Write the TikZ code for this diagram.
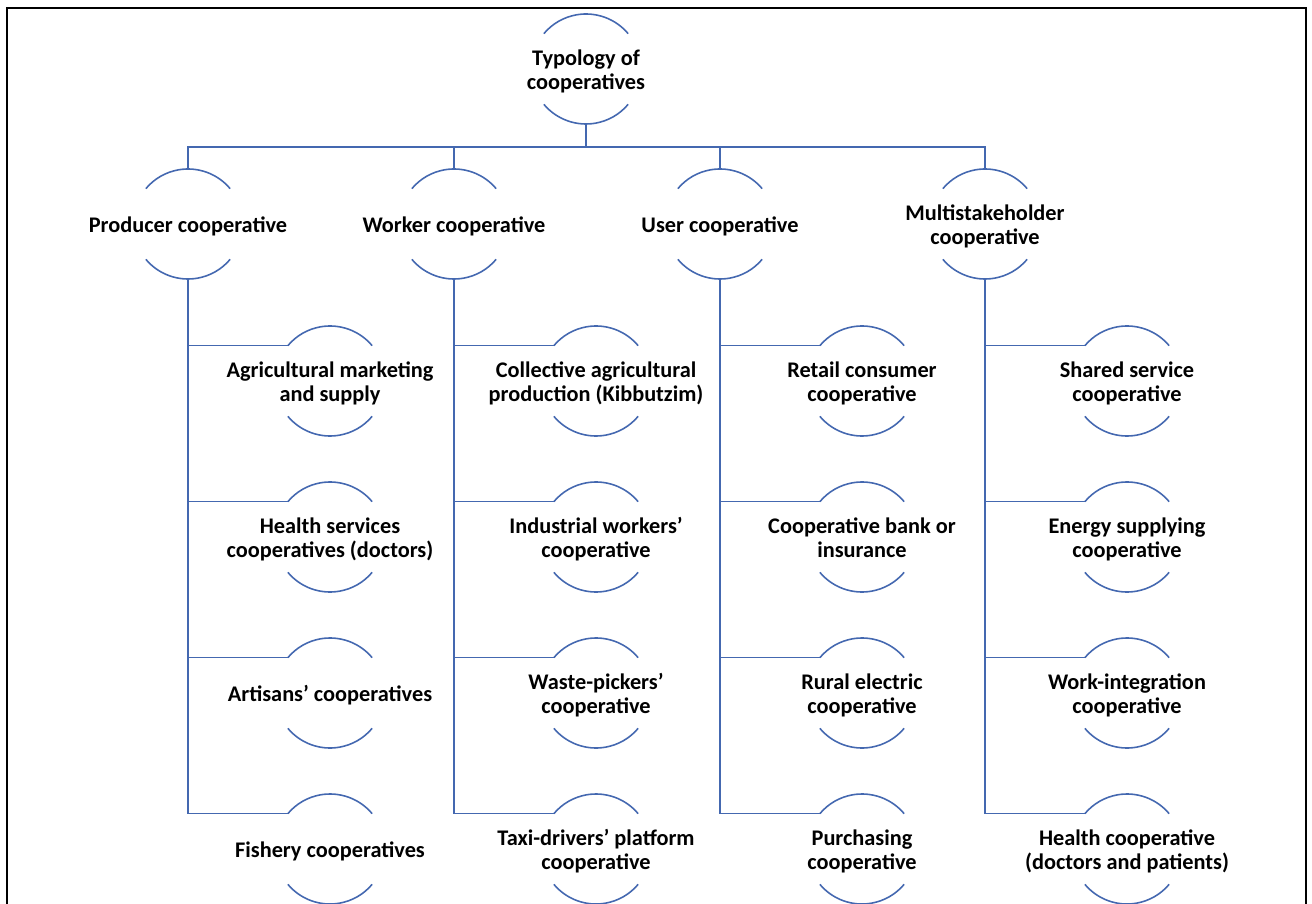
\documentclass[tikz,border=0pt]{standalone}
\usepackage{fontspec}
\setmainfont{Carlito}
\definecolor{coopblue}{RGB}{68,104,176}
\newcommand{\cooptext}[1]{\makebox[0pt]{\raisebox{-4.9pt}[0pt][0pt]{\begin{tabular}{@{}c@{}}#1\end{tabular}}}}
\begin{document}
\begin{tikzpicture}[font=\bfseries\fontsize{12.7}{13.9}\selectfont,
      link/.style={draw=coopblue, line width=0.9pt},
      coop/.style={circle, minimum size=2.2cm, inner sep=0pt, outer sep=0pt}]
    \useasboundingbox (0,0) rectangle (26.24,-18.08);
    \draw[line width=1.3pt] (0.14,-0.16) rectangle (26.12,-18.6);
    % one unit = 50 px of the 1312 x 904 frame; every circle has radius 1.1
    \node[coop] (typ) at (11.72,-1.38) {\cooptext{Typology of\\cooperatives}};
    \node[coop] (prod) at (3.76,-4.48) {\cooptext{Producer cooperative}};
    \node[coop] (work) at (9.08,-4.48) {\cooptext{Worker cooperative}};
    \node[coop] (user) at (14.4,-4.48) {\cooptext{User cooperative}};
    \node[coop] (multi) at (19.7,-4.48) {\cooptext{Multistakeholder\\cooperative}};
    \node[coop] (agri) at (6.6,-7.62) {\cooptext{Agricultural marketing\\and supply}};
    \node[coop] (hlth) at (6.6,-10.74) {\cooptext{Health services\\cooperatives (doctors)}};
    \node[coop] (artis) at (6.6,-13.86) {\cooptext{Artisans’ cooperatives}};
    \node[coop] (fish) at (6.6,-16.98) {\cooptext{Fishery cooperatives}};
    \node[coop] (kibb) at (11.92,-7.62) {\cooptext{Collective agricultural\\production (Kibbutzim)}};
    \node[coop] (indu) at (11.92,-10.74) {\cooptext{Industrial workers’\\cooperative}};
    \node[coop] (waste) at (11.92,-13.86) {\cooptext{Waste-pickers’\\cooperative}};
    \node[coop] (taxi) at (11.92,-16.98) {\cooptext{Taxi-drivers’ platform\\cooperative}};
    \node[coop] (retail) at (17.24,-7.62) {\cooptext{Retail consumer\\cooperative}};
    \node[coop] (bank) at (17.24,-10.74) {\cooptext{Cooperative bank or\\insurance}};
    \node[coop] (rural) at (17.24,-13.86) {\cooptext{Rural electric\\cooperative}};
    \node[coop] (purch) at (17.24,-16.98) {\cooptext{Purchasing\\cooperative}};
    \node[coop] (share) at (22.54,-7.62) {\cooptext{Shared service\\cooperative}};
    \node[coop] (enrg) at (22.54,-10.74) {\cooptext{Energy supplying\\cooperative}};
    \node[coop] (wint) at (22.54,-13.86) {\cooptext{Work-integration\\cooperative}};
    \node[coop] (hcoop) at (22.54,-16.98) {\cooptext{Health cooperative\\(doctors and patients)}};
    \draw[link] (typ.40) arc[start angle=40, end angle=140, radius=1.1cm] (typ.220) arc[start angle=220, end angle=320, radius=1.1cm];
    \draw[link] (prod.40) arc[start angle=40, end angle=140, radius=1.1cm] (prod.220) arc[start angle=220, end angle=320, radius=1.1cm];
    \draw[link] (work.40) arc[start angle=40, end angle=140, radius=1.1cm] (work.220) arc[start angle=220, end angle=320, radius=1.1cm];
    \draw[link] (user.40) arc[start angle=40, end angle=140, radius=1.1cm] (user.220) arc[start angle=220, end angle=320, radius=1.1cm];
    \draw[link] (multi.40) arc[start angle=40, end angle=140, radius=1.1cm] (multi.220) arc[start angle=220, end angle=320, radius=1.1cm];
    \draw[link] (agri.40) arc[start angle=40, end angle=140, radius=1.1cm] (agri.220) arc[start angle=220, end angle=320, radius=1.1cm];
    \draw[link] (hlth.40) arc[start angle=40, end angle=140, radius=1.1cm] (hlth.220) arc[start angle=220, end angle=320, radius=1.1cm];
    \draw[link] (artis.40) arc[start angle=40, end angle=140, radius=1.1cm] (artis.220) arc[start angle=220, end angle=320, radius=1.1cm];
    \draw[link] (fish.40) arc[start angle=40, end angle=140, radius=1.1cm] (fish.220) arc[start angle=220, end angle=320, radius=1.1cm];
    \draw[link] (kibb.40) arc[start angle=40, end angle=140, radius=1.1cm] (kibb.220) arc[start angle=220, end angle=320, radius=1.1cm];
    \draw[link] (indu.40) arc[start angle=40, end angle=140, radius=1.1cm] (indu.220) arc[start angle=220, end angle=320, radius=1.1cm];
    \draw[link] (waste.40) arc[start angle=40, end angle=140, radius=1.1cm] (waste.220) arc[start angle=220, end angle=320, radius=1.1cm];
    \draw[link] (taxi.40) arc[start angle=40, end angle=140, radius=1.1cm] (taxi.220) arc[start angle=220, end angle=320, radius=1.1cm];
    \draw[link] (retail.40) arc[start angle=40, end angle=140, radius=1.1cm] (retail.220) arc[start angle=220, end angle=320, radius=1.1cm];
    \draw[link] (bank.40) arc[start angle=40, end angle=140, radius=1.1cm] (bank.220) arc[start angle=220, end angle=320, radius=1.1cm];
    \draw[link] (rural.40) arc[start angle=40, end angle=140, radius=1.1cm] (rural.220) arc[start angle=220, end angle=320, radius=1.1cm];
    \draw[link] (purch.40) arc[start angle=40, end angle=140, radius=1.1cm] (purch.220) arc[start angle=220, end angle=320, radius=1.1cm];
    \draw[link] (share.40) arc[start angle=40, end angle=140, radius=1.1cm] (share.220) arc[start angle=220, end angle=320, radius=1.1cm];
    \draw[link] (enrg.40) arc[start angle=40, end angle=140, radius=1.1cm] (enrg.220) arc[start angle=220, end angle=320, radius=1.1cm];
    \draw[link] (wint.40) arc[start angle=40, end angle=140, radius=1.1cm] (wint.220) arc[start angle=220, end angle=320, radius=1.1cm];
    \draw[link] (hcoop.40) arc[start angle=40, end angle=140, radius=1.1cm] (hcoop.220) arc[start angle=220, end angle=320, radius=1.1cm];
    \coordinate (bar) at (11.72,-2.94);
    \draw[link] (typ.south) -- (bar);
    \draw[link] (bar) -| (prod.north);
    \draw[link] (bar) -| (work.north);
    \draw[link] (bar) -| (user.north);
    \draw[link] (bar) -| (multi.north);
    \draw[link] (prod.south) |- (agri.140);
    \draw[link] (prod.south) |- (hlth.140);
    \draw[link] (prod.south) |- (artis.140);
    \draw[link] (prod.south) |- (fish.140);
    \draw[link] (work.south) |- (kibb.140);
    \draw[link] (work.south) |- (indu.140);
    \draw[link] (work.south) |- (waste.140);
    \draw[link] (work.south) |- (taxi.140);
    \draw[link] (user.south) |- (retail.140);
    \draw[link] (user.south) |- (bank.140);
    \draw[link] (user.south) |- (rural.140);
    \draw[link] (user.south) |- (purch.140);
    \draw[link] (multi.south) |- (share.140);
    \draw[link] (multi.south) |- (enrg.140);
    \draw[link] (multi.south) |- (wint.140);
    \draw[link] (multi.south) |- (hcoop.140);
  \end{tikzpicture}
\end{document}
